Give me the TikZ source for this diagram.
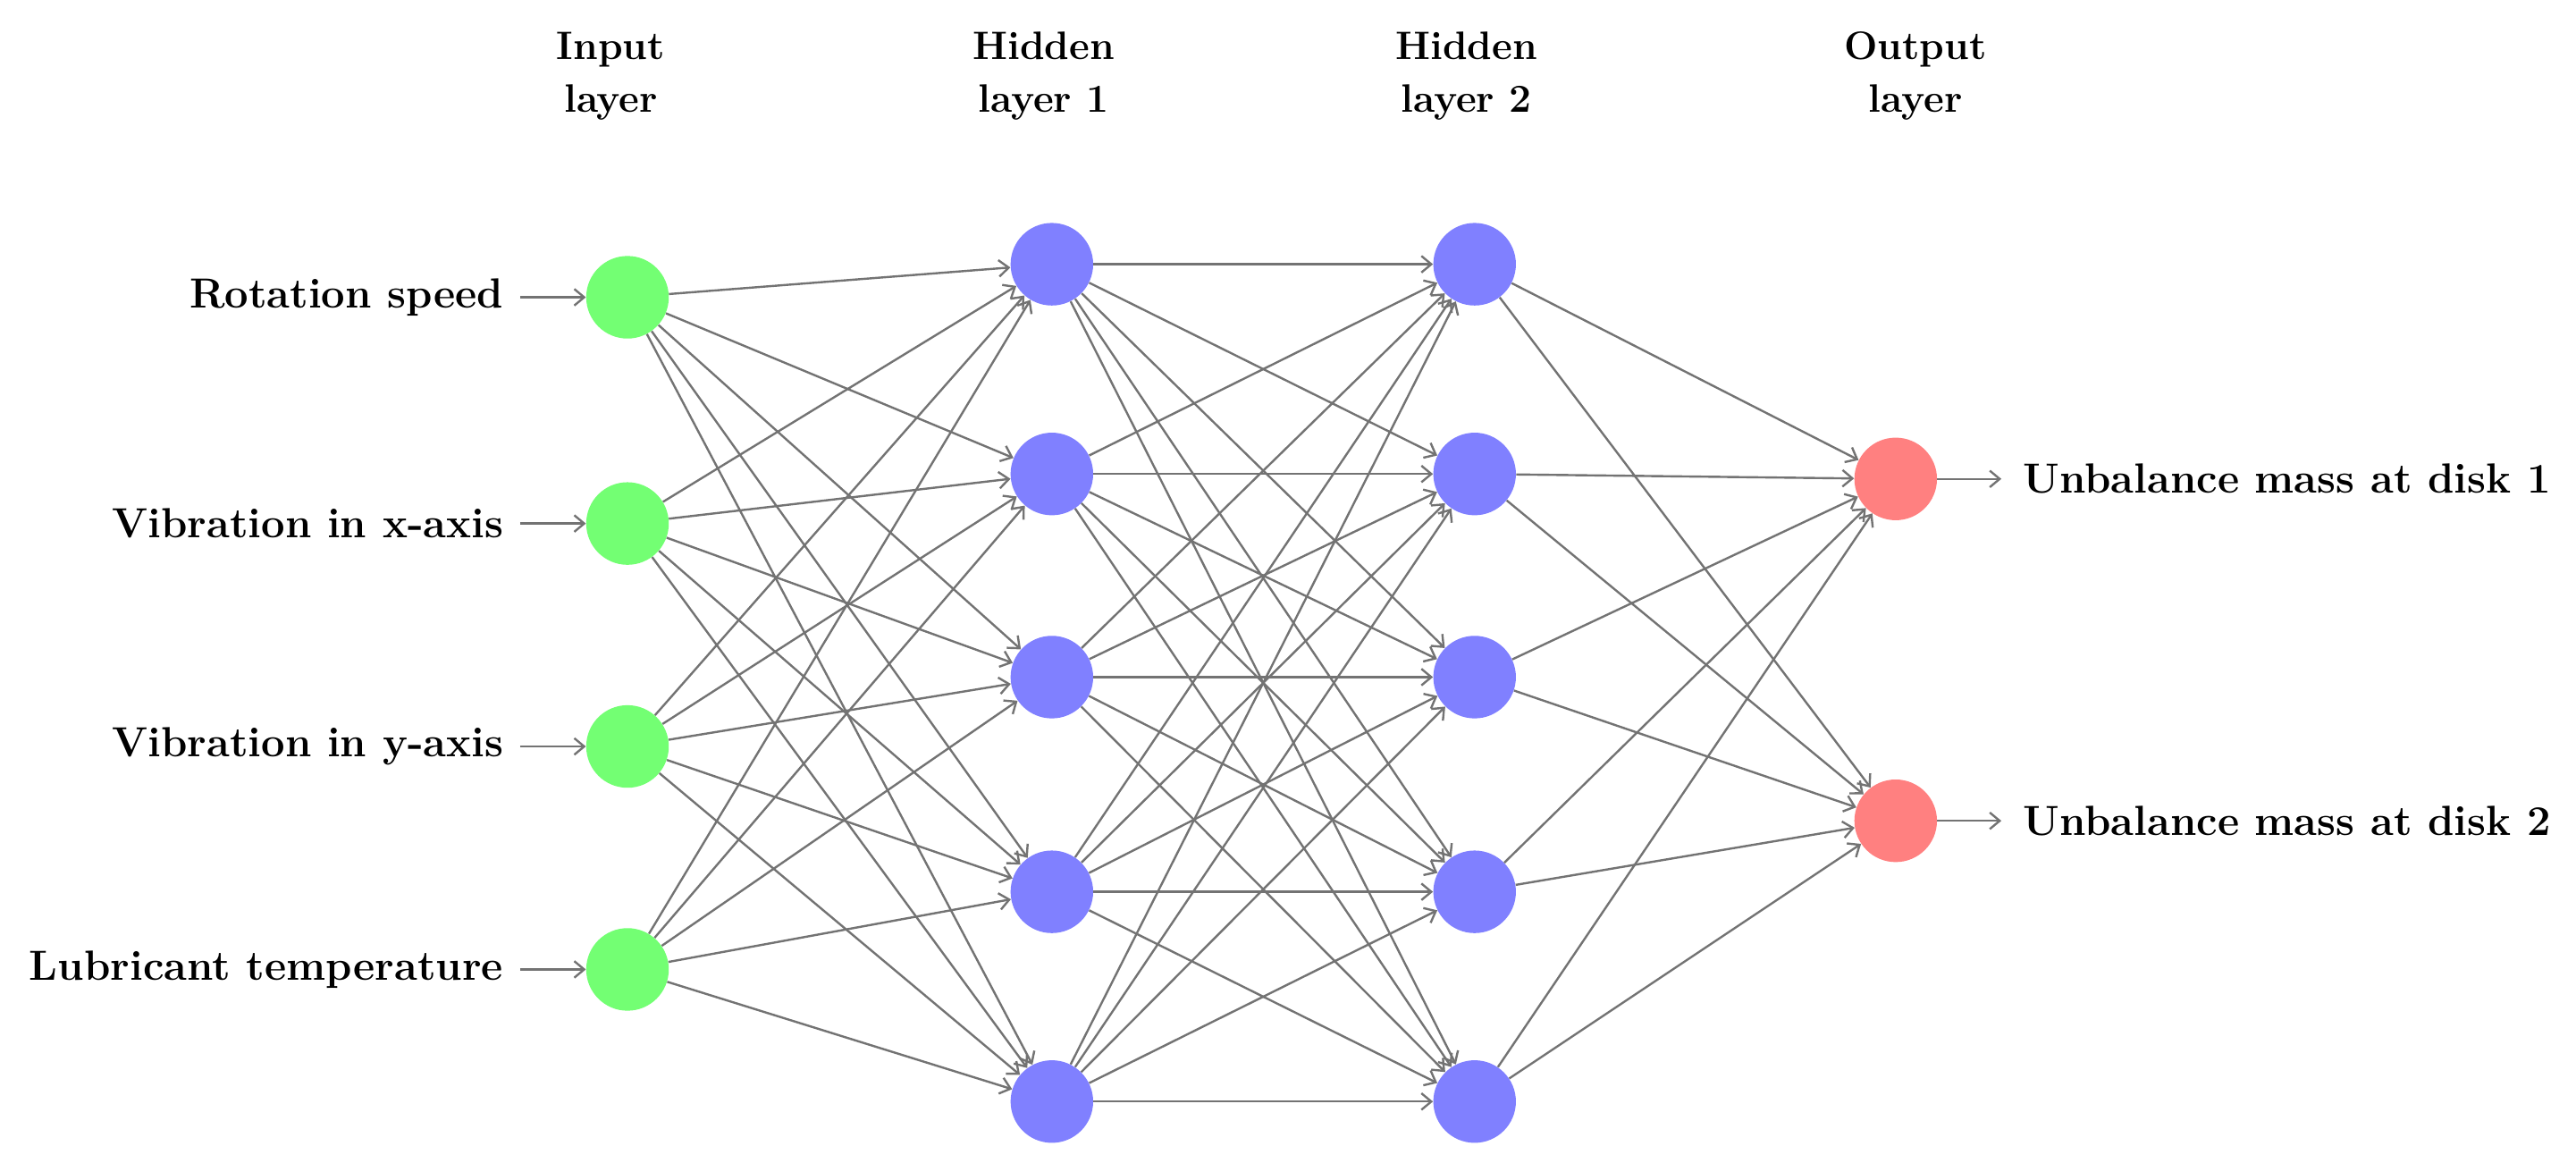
\documentclass[tikz,border=0pt]{standalone}
\usetikzlibrary{arrows.meta}
\begin{document}
\begin{tikzpicture}[x=1pt,y=-1pt,
  neuron/.style={circle,minimum size=50pt,inner sep=0pt,draw=none},
  inp/.style={neuron,fill=green!55},
  hid/.style={neuron,fill=blue!50},
  outp/.style={neuron,fill=red!50},
  conn/.style={-{Straight Barb[length=6pt,width=10pt]},draw=black!55,line width=1.3pt},
  lab/.style={font=\fontsize{25.5}{30}\selectfont\bfseries,inner sep=0pt},
  ttl/.style={font=\fontsize{24}{32}\selectfont\bfseries,align=center}]
\useasboundingbox (0,0) rectangle (1560,704);
\foreach \i/\y in {1/180,2/317,3/452,4/587} \node[inp] (I\i) at (380,\y) {};
\foreach \i/\y in {1/160,2/287,3/410,4/540,5/667} {\node[hid] (A\i) at (637,\y) {}; \node[hid] (B\i) at (893,\y) {};}
\node[outp] (O1) at (1148,290) {};
\node[outp] (O2) at (1148,497) {};
\node[ttl] at (370,46) {Input\\layer};
\node[ttl] at (632,46) {Hidden\\layer 1};
\node[ttl] at (888,46) {Hidden\\layer 2};
\node[ttl] at (1160,46) {Output\\layer};
\foreach \i/\t in {1/Rotation speed,2/Vibration in x-axis,3/Vibration in y-axis,4/Lubricant temperature} {
  \node[lab,anchor=east] (L\i) at (305,0 |- I\i) {\t};
  \draw[conn] (L\i.east)++(10,0) coordinate (s\i) -- (I\i);
}
\foreach \i in {1,2} {
  \coordinate (e\i) at (1212,0 |- O\i);
  \draw[conn] (O\i) -- (e\i);
  \node[lab,anchor=west] at (1225,0 |- O\i) {Unbalance mass at disk \i};
}
\foreach \i in {1,...,4} \foreach \j in {1,...,5} \draw[conn] (I\i) -- (A\j);
\foreach \i in {1,...,5} \foreach \j in {1,...,5} \draw[conn] (A\i) -- (B\j);
\foreach \i in {1,...,5} \foreach \j in {1,2} \draw[conn] (B\i) -- (O\j);
\end{tikzpicture}
\end{document}
